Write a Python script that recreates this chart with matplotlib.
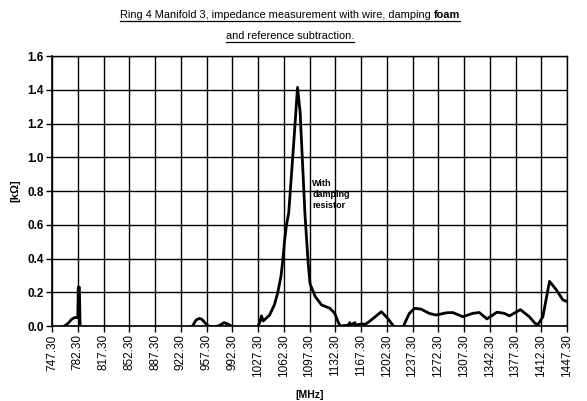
import matplotlib
matplotlib.use("Agg")
import matplotlib.pyplot as plt
from matplotlib.lines import Line2D

plt.rcParams['font.family'] = ['Liberation Sans Narrow', 'Liberation Sans', 'DejaVu Sans']

# 測定データ (周波数 [MHz], インピーダンス [kΩ])
freq = [747.3, 755, 762, 766, 770, 774, 778, 782.3, 783.0, 784.5, 785.5, 788,
        860, 935, 939, 943, 947.5, 951, 955, 960, 968, 975, 981, 986, 991, 995,
        1025, 1027.3, 1030, 1032, 1034.5, 1043, 1049.5, 1054, 1058.5, 1061, 1063.5,
        1066, 1069, 1075.6, 1081, 1084.5, 1091, 1095.5, 1098, 1105, 1113.6, 1125,
        1131.6, 1136, 1139, 1150, 1152, 1153, 1159, 1160, 1165, 1174, 1181, 1188,
        1195, 1203.6, 1210.5, 1214, 1223, 1226.5, 1233, 1240, 1249, 1260, 1269,
        1283, 1292, 1305.7, 1319, 1328, 1338.5, 1352, 1362, 1369, 1384, 1396,
        1404, 1408, 1414.4, 1423.5, 1432.6, 1441.6, 1447.3]
imp = [-0.01, -0.01, -0.005, 0.005, 0.02, 0.04, 0.05, 0.05, 0.23, 0.23, 0.0, -0.03,
       -0.03, -0.03, 0.005, 0.035, 0.045, 0.04, 0.02, 0.0, -0.005, 0.003, 0.02, 0.012, 0.0, -0.03,
       -0.03, 0.0, 0.025, 0.06, 0.03, 0.065, 0.125, 0.195, 0.295, 0.39, 0.51,
       0.6, 0.67, 1.07, 1.415, 1.27, 0.67, 0.37, 0.25, 0.175, 0.125, 0.105,
       0.075, 0.025, 0.0, 0.005, 0.02, 0.005, 0.02, 0.005, 0.01, 0.012, 0.035, 0.06,
       0.085, 0.045, 0.005, -0.03, -0.03, 0.015, 0.075, 0.105, 0.1, 0.075, 0.065,
       0.078, 0.08, 0.055, 0.075, 0.08, 0.042, 0.082, 0.075, 0.06, 0.097, 0.055,
       0.015, 0.01, 0.055, 0.265, 0.215, 0.155, 0.145]

xticks = [747.3 + 35 * i for i in range(21)]
xticklabels = [f"{v:.2f}" for v in xticks]
yticks = [0.0, 0.2, 0.4, 0.6, 0.8, 1.0, 1.2, 1.4, 1.6]

fig = plt.figure(figsize=(5.87, 4.01), dpi=100)
ax = fig.add_axes([0.0886, 0.187, 0.8774, 0.673])

ax.plot(freq, imp, color="black", lw=2.0, solid_joinstyle="round")

ax.set_xlim(747.3, 1447.3)
ax.set_ylim(0, 1.6)
ax.set_xticks(xticks)
ax.set_xticklabels(xticklabels, rotation=90, fontsize=8.5)
ax.set_yticks(yticks)
ax.set_yticklabels([f"{v:.1f}" for v in yticks], fontsize=8.5, fontweight="bold")
ax.tick_params(axis="both", direction="out", length=4, width=1, color="black", pad=2)
ax.grid(True, color="black", lw=1.0)

for side in ["top", "right"]:
    ax.spines[side].set_linestyle((0, (1, 1)))
    ax.spines[side].set_linewidth(1.0)
for side in ["left", "bottom"]:
    ax.spines[side].set_linewidth(1.2)

ax.set_xlabel("[MHz]", fontsize=7.5, fontweight="bold", labelpad=9)
ax.set_ylabel("[kΩ]", fontsize=8, fontweight="bold", labelpad=5)

ax.text(1101, 0.87, "With\ndamping\nresistor", fontsize=6.5, fontweight="bold",
        va="top", ha="left", linespacing=1.3)

# タイトル（下線付き、"foam" だけ太字）
part1 = "Ring 4 Manifold 3, impedance measurement with wire, damping "
part2 = "foam"
line2 = "and reference subtraction."
fig.canvas.draw()
r = fig.canvas.get_renderer()
W, H = fig.bbox.width, fig.bbox.height
t1 = fig.text(0, 0, part1, fontsize=7.9)
t2 = fig.text(0, 0, part2, fontsize=7.9, fontweight="heavy")
w1 = t1.get_window_extent(r).width
w2 = t2.get_window_extent(r).width
x0 = 290 - (w1 + w2) / 2
t1.set_position((x0 / W, 1 - 18 / H))
t2.set_position(((x0 + w1) / W, 1 - 18 / H))
t3 = fig.text(290 / W, 1 - 39 / H, line2, fontsize=7.9, ha="center")
w3 = t3.get_window_extent(r).width
for xa, xb, yy in [(x0, x0 + w1 + w2, 21), (290 - w3 / 2, 290 + w3 / 2, 42)]:
    fig.add_artist(Line2D([xa / W, xb / W], [1 - yy / H, 1 - yy / H],
                          color="black", lw=0.9, transform=fig.transFigure))

plt.savefig("out.png", dpi=100)
